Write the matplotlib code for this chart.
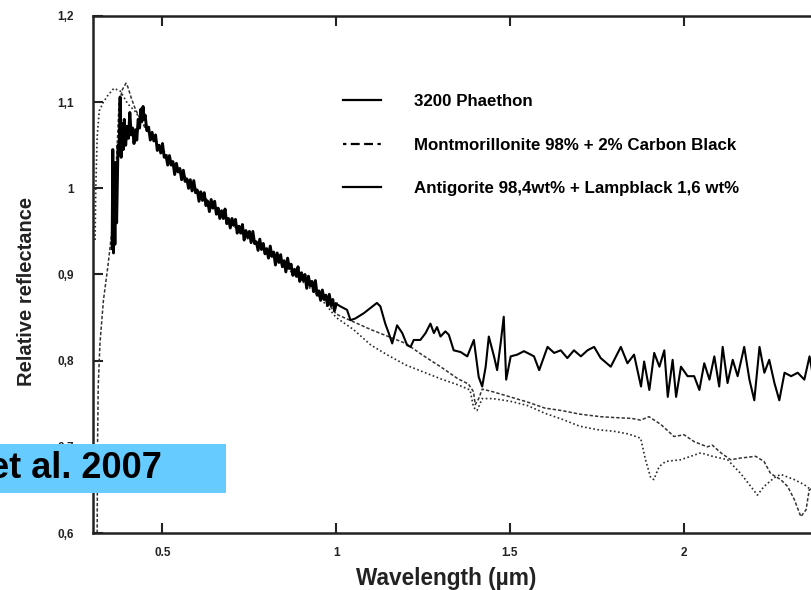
import matplotlib
matplotlib.use("Agg")
import matplotlib.pyplot as plt
from matplotlib.lines import Line2D
from matplotlib.patches import Rectangle

plt.rcParams['font.family'] = ['Liberation Sans', 'DejaVu Sans']

# ---- 3200 Phaethon reflectance spectrum ----
phaethon_wl = [
    0.355, 0.357, 0.359, 0.361, 0.363, 0.365, 0.368, 0.372, 0.375, 0.378,
    0.381, 0.384, 0.387, 0.390, 0.394, 0.398, 0.402, 0.406, 0.410, 0.414,
    0.418, 0.422, 0.426, 0.430, 0.434, 0.438, 0.441, 0.444, 0.447,
    0.450, 0.455, 0.460, 0.465, 0.470, 0.475, 0.480, 0.485, 0.490, 0.495,
    0.500, 0.505, 0.510, 0.515, 0.520, 0.525, 0.530, 0.535, 0.540, 0.545,
    0.550, 0.555, 0.560, 0.565, 0.570, 0.575, 0.580, 0.585, 0.590, 0.595,
    0.600, 0.605, 0.610, 0.615, 0.620, 0.625, 0.630, 0.635, 0.640, 0.645,
    0.650, 0.655, 0.660, 0.665, 0.670, 0.675, 0.680, 0.685, 0.690, 0.695,
    0.700, 0.705, 0.710, 0.715, 0.720, 0.725, 0.730, 0.735, 0.740, 0.745,
    0.750, 0.755, 0.760, 0.765, 0.770, 0.775, 0.780, 0.785, 0.790, 0.795,
    0.800, 0.805, 0.810, 0.815, 0.820, 0.825, 0.830, 0.835, 0.840, 0.845,
    0.850, 0.855, 0.860, 0.865, 0.870, 0.875, 0.880, 0.885, 0.890, 0.895,
    0.900, 0.905, 0.910, 0.915, 0.920, 0.925, 0.930, 0.935, 0.940, 0.945,
    0.950, 0.955, 0.960, 0.965, 0.970, 0.975, 0.980, 0.985, 0.990, 0.995,
    1.000,
    1.012, 1.031, 1.041, 1.055, 1.079, 1.098, 1.117, 1.127, 1.141, 1.151,
    1.161, 1.175, 1.190, 1.204, 1.214, 1.223, 1.242, 1.257, 1.271, 1.281,
    1.290, 1.300, 1.314, 1.324, 1.338, 1.358, 1.377, 1.396, 1.410, 1.420,
    1.430, 1.439, 1.454, 1.463, 1.473, 1.482, 1.489, 1.502, 1.521, 1.540,
    1.555, 1.569, 1.584, 1.608, 1.627, 1.646, 1.665, 1.684, 1.704, 1.723,
    1.742, 1.761, 1.790, 1.819, 1.838, 1.857, 1.877, 1.886, 1.901, 1.915,
    1.930, 1.944, 1.954, 1.968, 1.978, 1.992, 2.011, 2.030, 2.045, 2.059,
    2.074, 2.088, 2.102, 2.112, 2.126, 2.141, 2.155, 2.174, 2.189, 2.203,
    2.218, 2.232, 2.246, 2.261, 2.275, 2.290, 2.309, 2.328, 2.347, 2.362,
    2.372, 2.385,
]
phaethon_refl = [
    0.930, 1.045, 0.925, 1.020, 0.935, 1.030, 0.960, 1.050, 1.040, 1.106,
    1.036, 1.075, 1.045, 1.080, 1.050, 1.072, 1.058, 1.088, 1.062, 1.070,
    1.052, 1.068, 1.056, 1.080, 1.070, 1.092, 1.078, 1.095, 1.080,
    1.085, 1.067, 1.071, 1.056, 1.065, 1.055, 1.062, 1.044, 1.050, 1.041,
    1.052, 1.036, 1.038, 1.027, 1.038, 1.027, 1.031, 1.016, 1.029, 1.019,
    1.023, 1.010, 1.021, 1.008, 1.011, 1.000, 1.010, 0.997, 1.009, 0.995,
    0.998, 0.985, 0.996, 0.986, 0.995, 0.980, 0.985, 0.973, 0.987, 0.977,
    0.985, 0.970, 0.977, 0.965, 0.974, 0.965, 0.976, 0.959, 0.965, 0.954,
    0.965, 0.957, 0.964, 0.948, 0.956, 0.948, 0.958, 0.940, 0.951, 0.943,
    0.950, 0.937, 0.950, 0.936, 0.938, 0.928, 0.941, 0.929, 0.936, 0.924,
    0.930, 0.919, 0.933, 0.921, 0.926, 0.911, 0.925, 0.914, 0.923, 0.909,
    0.916, 0.903, 0.919, 0.907, 0.912, 0.899, 0.906, 0.898, 0.909, 0.892,
    0.902, 0.893, 0.900, 0.884, 0.898, 0.887, 0.892, 0.880, 0.893, 0.876,
    0.881, 0.870, 0.882, 0.871, 0.876, 0.864, 0.877, 0.864, 0.871, 0.858,
    0.866,
    0.863, 0.859, 0.847, 0.849, 0.855, 0.861, 0.867, 0.863, 0.843, 0.832,
    0.820, 0.841, 0.832, 0.818, 0.816, 0.824, 0.824, 0.832, 0.843, 0.832,
    0.839, 0.828, 0.834, 0.830, 0.812, 0.810, 0.805, 0.824, 0.781, 0.770,
    0.793, 0.828, 0.805, 0.789, 0.820, 0.851, 0.778, 0.805, 0.807, 0.811,
    0.808, 0.805, 0.789, 0.816, 0.809, 0.812, 0.803, 0.812, 0.805, 0.812,
    0.816, 0.803, 0.793, 0.816, 0.797, 0.807, 0.770, 0.799, 0.766, 0.809,
    0.793, 0.812, 0.758, 0.801, 0.758, 0.793, 0.782, 0.782, 0.766, 0.797,
    0.778, 0.805, 0.770, 0.816, 0.774, 0.801, 0.782, 0.816, 0.778, 0.754,
    0.816, 0.786, 0.801, 0.774, 0.754, 0.786, 0.782, 0.786, 0.778, 0.805,
    0.782, 0.790,
]

# ---- Montmorillonite 98% + 2% Carbon Black ----
montmor_wl = [
    0.306, 0.308, 0.312, 0.318, 0.330, 0.343, 0.360, 0.378, 0.390, 0.400,
    0.420, 0.450, 0.500, 0.550, 0.600, 0.650, 0.700, 0.750, 0.800, 0.850,
    0.900, 0.950, 1.000, 1.050, 1.100, 1.150, 1.200, 1.250, 1.300, 1.350,
    1.385, 1.395, 1.405, 1.420, 1.450, 1.500, 1.550, 1.600, 1.650, 1.700,
    1.750, 1.800, 1.840, 1.876, 1.890, 1.905, 1.914, 1.929, 1.948, 1.991,
    2.049, 2.083, 2.126, 2.164, 2.193, 2.212, 2.231, 2.260, 2.279, 2.318,
    2.347, 2.380,
]
montmor_refl = [
    0.940, 1.000, 1.060, 1.090, 1.100, 1.108, 1.116, 1.113, 1.105, 1.098,
    1.090, 1.072, 1.045, 1.020, 0.997, 0.976, 0.958, 0.940, 0.925, 0.910,
    0.893, 0.875, 0.850, 0.836, 0.818, 0.806, 0.795, 0.787, 0.779, 0.772,
    0.766, 0.746, 0.742, 0.756, 0.756, 0.753, 0.748, 0.739, 0.732, 0.724,
    0.720, 0.718, 0.715, 0.710, 0.685, 0.664, 0.662, 0.677, 0.683, 0.685,
    0.693, 0.689, 0.685, 0.669, 0.654, 0.644, 0.654, 0.664, 0.668, 0.662,
    0.656, 0.646,
]

# ---- Antigorite 98.4 wt% + Lampblack 1.6 wt% ----
antig_wl = [
    0.312, 0.313, 0.315, 0.320, 0.330, 0.343, 0.350, 0.358, 0.366, 0.370,
    0.375, 0.385, 0.395, 0.400, 0.410, 0.420, 0.430, 0.450, 0.500, 0.550,
    0.600, 0.650, 0.700, 0.750, 0.800, 0.850, 0.900, 0.950, 1.000, 1.050,
    1.100, 1.150, 1.200, 1.250, 1.300, 1.350, 1.380, 1.395, 1.400, 1.410,
    1.420, 1.450, 1.500, 1.550, 1.600, 1.650, 1.700, 1.760, 1.800, 1.850,
    1.876, 1.900, 1.934, 1.972, 2.001, 2.030, 2.068, 2.082, 2.107, 2.135,
    2.164, 2.207, 2.231, 2.250, 2.279, 2.299, 2.318, 2.337, 2.352, 2.361,
    2.371, 2.385,
]
antig_refl = [
    0.600, 0.700, 0.770, 0.820, 0.870, 0.910, 0.935, 0.963, 1.020, 1.053,
    1.099, 1.115, 1.122, 1.118, 1.105, 1.094, 1.085, 1.070, 1.043, 1.020,
    0.998, 0.978, 0.960, 0.943, 0.928, 0.913, 0.897, 0.880, 0.854, 0.845,
    0.836, 0.828, 0.820, 0.806, 0.793, 0.779, 0.773, 0.764, 0.749, 0.756,
    0.767, 0.764, 0.758, 0.752, 0.745, 0.742, 0.738, 0.735, 0.734, 0.733,
    0.731, 0.735, 0.726, 0.712, 0.714, 0.706, 0.700, 0.702, 0.693, 0.685,
    0.687, 0.689, 0.683, 0.669, 0.662, 0.654, 0.639, 0.619, 0.627, 0.650,
    0.652, 0.655,
]

series_labels = [
    "3200 Phaethon",
    "Montmorillonite 98% + 2% Carbon Black",
    "Antigorite 98,4wt% + Lampblack 1,6 wt%",
]

x_ticks = [0.5, 1.0, 1.5, 2.0]
x_tick_labels = ["0.5", "1", "1.5", "2"]
y_ticks = [0.6, 0.7, 0.8, 0.9, 1.0, 1.1, 1.2]
y_tick_labels = ["0,6", "0,7", "0,8", "0,9", "1", "1,1", "1,2"]

citation = "et al. 2007"

W, H = 812, 590
fig = plt.figure(figsize=(W / 100, H / 100), dpi=100)
fig.patch.set_facecolor("white")

# plot frame runs past the right edge of the figure
ax_left, ax_right, ax_top, ax_bottom = 93, 857.5, 16, 533
ax = fig.add_axes([ax_left / W, 1 - ax_bottom / H,
                   (ax_right - ax_left) / W, (ax_bottom - ax_top) / H])
ax.set_xlim(0.3, 2.5)
ax.set_ylim(0.6, 1.2)

ax.plot(montmor_wl, montmor_refl, color="#2a2a2a", lw=1.2,
        linestyle=(0, (1, 1.5)), zorder=2)
ax.plot(antig_wl, antig_refl, color="#333333", lw=1.1,
        linestyle=(0, (2.2, 1.3)), zorder=2)

# dense visible part of the spectrum is drawn heavier than the near-IR part
n_vis = sum(1 for w in phaethon_wl if w <= 1.0)
ax.plot(phaethon_wl[:n_vis], phaethon_refl[:n_vis], color="black", lw=2.1,
        zorder=3)
ax.plot(phaethon_wl[n_vis - 1:], phaethon_refl[n_vis - 1:], color="black",
        lw=1.5, zorder=3)

for side in ax.spines.values():
    side.set_linewidth(1.8)
    side.set_color("#222222")

ax.set_xticks(x_ticks)
ax.set_xticklabels(x_tick_labels)
ax.set_yticks(y_ticks)
ax.set_yticklabels(y_tick_labels)
ax.tick_params(axis="both", direction="in", length=7, width=1.5,
               top=True, right=True, labelsize=8.5, colors="#222222")
ax.tick_params(axis="y", pad=14)
ax.tick_params(axis="x", pad=10)
for lab in ax.get_xticklabels() + ax.get_yticklabels():
    lab.set_fontweight("bold")

# legend with its own sample lines
handles = [
    Line2D([], [], color="black", lw=1.6),
    Line2D([], [], color="black", lw=1.6, linestyle=(0, (1.5, 2, 4, 2, 4, 2))),
    Line2D([], [], color="black", lw=1.6),
]
leg = fig.legend(handles, series_labels, loc="center left",
                 bbox_to_anchor=(335 / W, 1 - 145 / H), frameon=False,
                 borderpad=0, handlelength=2.2, handletextpad=1.95,
                 labelspacing=1.68,
                 prop={"family": "Liberation Sans", "weight": "bold", "size": 12.2})

fig.text(27 / W, 1 - 291 / H, "Relative reflectance", rotation=90,
         ha="center", va="center", fontsize=14.5, fontweight="bold",
         color="#222222")
fig.text(446 / W, 1 - 578 / H, "Wavelength (\u00b5m)", ha="center",
         va="center", fontsize=16.3, fontweight="bold", color="#222222")

# citation banner at lower left
fig.patches.append(Rectangle((0, 1 - 493 / H), 226 / W, 49 / H,
                             transform=fig.transFigure, facecolor="#66CCFF",
                             edgecolor="none", zorder=5))
fig.text(162 / W, 1 - 469 / H, citation, ha="right", va="center",
         fontsize=26, fontweight="bold", color="black", zorder=6)

fig.savefig("out.png", dpi=100)
